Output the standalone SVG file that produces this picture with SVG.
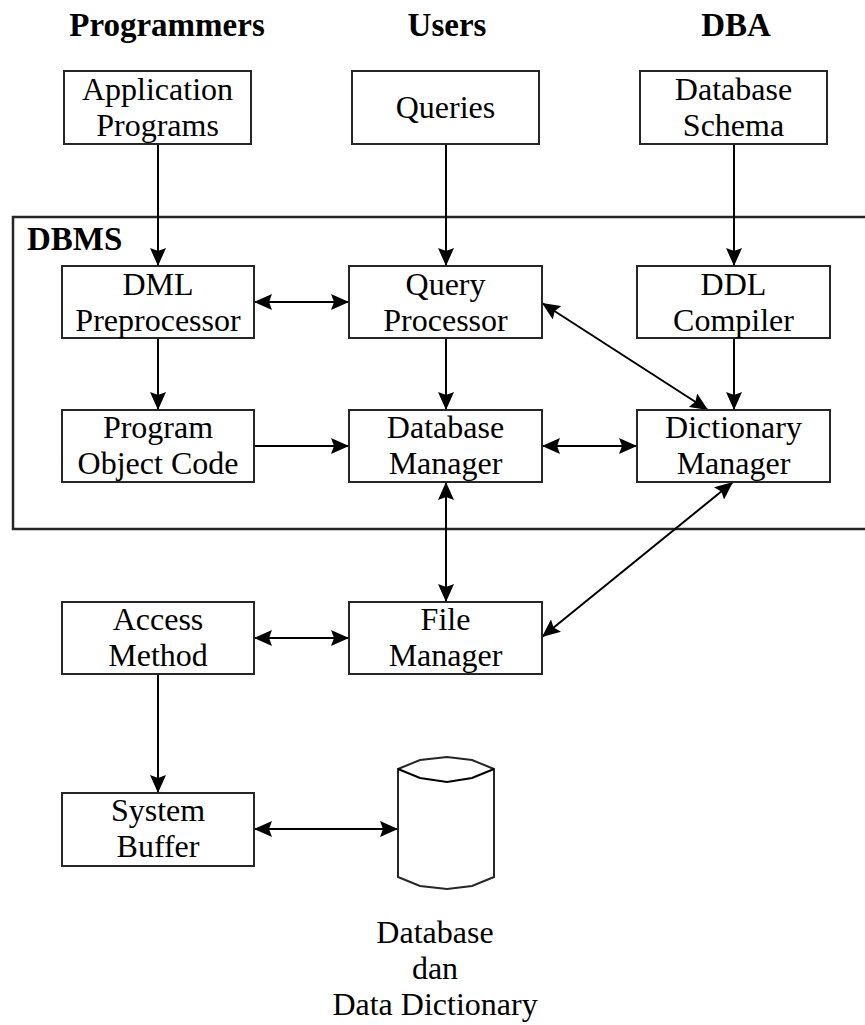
<svg xmlns="http://www.w3.org/2000/svg" width="865" height="1025" viewBox="0 0 865 1025">
  <style>
    .box { fill: #fff; stroke: #262626; stroke-width: 2; }
    .frame { fill: none; stroke: #262626; stroke-width: 2.5; }
    .lbl { font-family: "Liberation Serif", "Times New Roman", serif; font-size: 32px; fill: #000; text-anchor: middle; }
    .hdr { font-family: "Liberation Serif", "Times New Roman", serif; font-size: 33px; font-weight: bold; fill: #000; text-anchor: middle; }
    .edge { fill: none; stroke: #000; stroke-width: 2; }
    .one { marker-end: url(#arrow); }
    .two { marker-start: url(#arrow); marker-end: url(#arrow); }
  </style>
  <defs>
    <marker id="arrow" viewBox="0 0 18 16" refX="18" refY="8" markerWidth="18" markerHeight="16" markerUnits="userSpaceOnUse" orient="auto-start-reverse">
      <path d="M0,0 L18,8 L0,16 L3,8 z" fill="#000"/>
    </marker>
  </defs>

  <rect width="865" height="1025" fill="#fff"/>

  <!-- role headings -->
  <g id="headings">
    <text class="hdr" x="167" y="36">Programmers</text>
    <text class="hdr" x="447" y="36">Users</text>
    <text class="hdr" x="736" y="36">DBA</text>
  </g>

  <!-- DBMS boundary (open to the right edge) -->
  <g id="dbms">
    <rect class="frame" x="13" y="217" width="880" height="312"/>
    <text class="hdr" x="27" y="250" style="text-anchor:start">DBMS</text>
  </g>

  <g id="connectors">
    <line class="edge one" x1="158" y1="144" x2="158" y2="266"/>
    <line class="edge one" x1="446" y1="144" x2="446" y2="266"/>
    <line class="edge one" x1="734" y1="144" x2="734" y2="266"/>
    <line class="edge two" x1="254" y1="302" x2="349" y2="302"/>
    <line class="edge one" x1="158" y1="338" x2="158" y2="410"/>
    <line class="edge one" x1="446" y1="338" x2="446" y2="410"/>
    <line class="edge two" x1="542" y1="303" x2="708" y2="410"/>
    <line class="edge one" x1="734" y1="338" x2="734" y2="410"/>
    <line class="edge one" x1="254" y1="446" x2="349" y2="446"/>
    <line class="edge two" x1="542" y1="446" x2="637" y2="446"/>
    <line class="edge two" x1="446" y1="482" x2="446" y2="602"/>
    <line class="edge two" x1="733" y1="482" x2="542" y2="637"/>
    <line class="edge two" x1="254" y1="638" x2="349" y2="638"/>
    <line class="edge one" x1="158" y1="674" x2="158" y2="793"/>
    <line class="edge two" x1="254" y1="829" x2="398" y2="829"/>
  </g>

  <g id="app-programs">
    <rect class="box" x="64" y="71" width="187" height="73"/>
    <text class="lbl" x="157.5" y="100">Application</text>
    <text class="lbl" x="157.5" y="136">Programs</text>
  </g>
  <g id="queries">
    <rect class="box" x="352" y="71" width="187" height="73"/>
    <text class="lbl" x="445.5" y="118">Queries</text>
  </g>
  <g id="db-schema">
    <rect class="box" x="640" y="71" width="187" height="73"/>
    <text class="lbl" x="733.5" y="100">Database</text>
    <text class="lbl" x="733.5" y="136">Schema</text>
  </g>

  <g id="dml-preprocessor">
    <rect class="box" x="62" y="266" width="192" height="72"/>
    <text class="lbl" x="158" y="295">DML</text>
    <text class="lbl" x="158" y="331">Preprocessor</text>
  </g>
  <g id="query-processor">
    <rect class="box" x="349" y="266" width="193" height="72"/>
    <text class="lbl" x="445.5" y="295">Query</text>
    <text class="lbl" x="445.5" y="331">Processor</text>
  </g>
  <g id="ddl-compiler">
    <rect class="box" x="637" y="266" width="193" height="72"/>
    <text class="lbl" x="733.5" y="295">DDL</text>
    <text class="lbl" x="733.5" y="331">Compiler</text>
  </g>

  <g id="program-object-code">
    <rect class="box" x="62" y="410" width="192" height="72"/>
    <text class="lbl" x="158" y="438">Program</text>
    <text class="lbl" x="158" y="474">Object Code</text>
  </g>
  <g id="database-manager">
    <rect class="box" x="349" y="410" width="193" height="72"/>
    <text class="lbl" x="445.5" y="438">Database</text>
    <text class="lbl" x="445.5" y="474">Manager</text>
  </g>
  <g id="dictionary-manager">
    <rect class="box" x="637" y="410" width="193" height="72"/>
    <text class="lbl" x="733.5" y="438">Dictionary</text>
    <text class="lbl" x="733.5" y="474">Manager</text>
  </g>

  <g id="access-method">
    <rect class="box" x="62" y="602" width="192" height="72"/>
    <text class="lbl" x="158" y="630">Access</text>
    <text class="lbl" x="158" y="666">Method</text>
  </g>
  <g id="file-manager">
    <rect class="box" x="349" y="602" width="193" height="72"/>
    <text class="lbl" x="445.5" y="630">File</text>
    <text class="lbl" x="445.5" y="666">Manager</text>
  </g>

  <g id="system-buffer">
    <rect class="box" x="62" y="793" width="192" height="73"/>
    <text class="lbl" x="158" y="821">System</text>
    <text class="lbl" x="158" y="857">Buffer</text>
  </g>

  <!-- storage cylinder -->
  <g id="database-store">
    <path class="box" d="M398,769 L420,760 L447,757 L472,760 L494,769 L494,877 L472,886 L447,889 L420,886 L398,877 Z"/>
    <path class="edge" d="M398,769 L420,778 L447,782 L472,778 L494,769" stroke-width="1.5"/>
    <text class="lbl" x="435" y="943">Database</text>
    <text class="lbl" x="435" y="979">dan</text>
    <text class="lbl" x="435" y="1015">Data Dictionary</text>
  </g>
</svg>
